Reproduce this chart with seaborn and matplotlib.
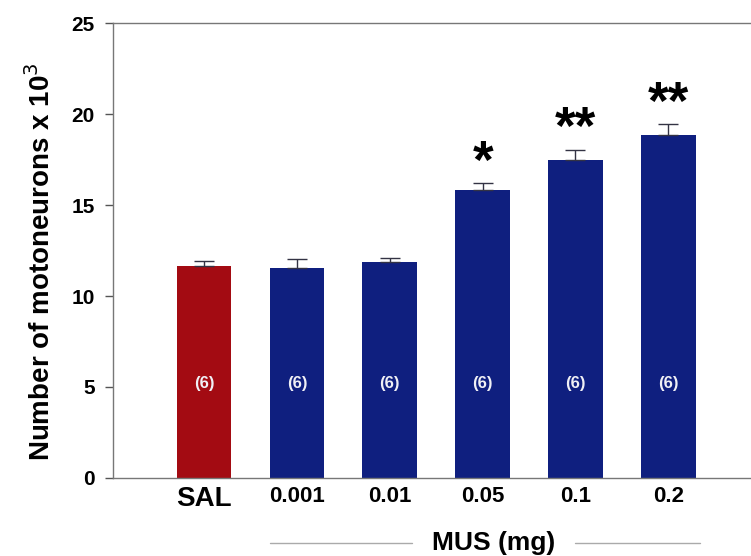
import matplotlib
matplotlib.use("Agg")
import matplotlib.pyplot as plt
import seaborn as sns
import pandas as pd

# values
groups = ["SAL", "0.001", "0.01", "0.05", "0.1", "0.2"]
means = [11.65, 11.55, 11.85, 15.85, 17.45, 18.85]
sems = [0.25, 0.5, 0.25, 0.35, 0.6, 0.6]
n_labels = ["(6)", "(6)", "(6)", "(6)", "(6)", "(6)"]
stars = ["", "", "", "*", "**", "**"]
colors = ["#A30B12", "#0F1F7F", "#0F1F7F", "#0F1F7F", "#0F1F7F", "#0F1F7F"]

df = pd.DataFrame({"group": groups, "mean": means, "sem": sems})

sns.set_style("white")
plt.rcParams["font.family"] = ["Liberation Sans", "DejaVu Sans"]
plt.rcParams["text.color"] = "black"
plt.rcParams["axes.labelcolor"] = "black"
plt.rcParams["ytick.labelcolor"] = "black"
plt.rcParams["xtick.labelcolor"] = "black"

fig = plt.figure(figsize=(7.51, 5.56), dpi=100)
ax = fig.add_axes([0.1505, 0.1403, 0.8495, 0.8183])

sns.barplot(data=df, x="group", y="mean", hue="group", palette=colors,
            legend=False, width=0.59, ax=ax, saturation=1, edgecolor="none")

ax.errorbar(range(len(groups)), df["mean"], yerr=[[0] * len(sems), df["sem"]],
            fmt="none", ecolor="#333344", elinewidth=1, capsize=7, capthick=1)

for i, (m, s) in enumerate(zip(means, sems)):
    ax.text(i, 5.2, n_labels[i], ha="center", va="center", color="#f0f0f5",
            fontsize=12, fontweight="bold")
    if stars[i]:
        ax.text(i, m + s - 0.3, stars[i], ha="center", va="bottom",
                fontsize=38, fontweight="bold", color="black")

ax.set_xlim(-0.98, 5.89)
ax.set_ylim(0, 25)
ax.set_yticks([0, 5, 10, 15, 20, 25])
ax.set_yticklabels(["0", "5", "10", "15", "20", "25"], fontsize=15,
                   fontweight="bold")
ax.set_xticks(range(len(groups)))
ax.set_xticklabels(groups, fontweight="bold")
for lab in ax.get_xticklabels():
    lab.set_fontsize(20 if lab.get_text() == "SAL" else 16)
ax.tick_params(axis="y", direction="out", length=6, width=1, color="#555555",
               left=True, pad=7)
ax.tick_params(axis="x", length=0, pad=6)

ax.set_xlabel("")
ax.set_ylabel("Number of motoneurons x 10$^3$", fontsize=20,
              fontweight="bold")
ax.yaxis.set_label_coords(-0.09, 0.475)

for side in ["top", "bottom", "left"]:
    ax.spines[side].set_visible(True)
    ax.spines[side].set_color("#777777")
    ax.spines[side].set_linewidth(1)
ax.spines["right"].set_visible(False)

# MUS (mg) label with side rules
ax.text(0.596, -0.142, "MUS (mg)", transform=ax.transAxes, ha="center",
        va="center", fontsize=19, fontweight="bold")
ax.plot([0.246, 0.469], [-0.143, -0.143], transform=ax.transAxes,
        color="#aaaaaa", lw=1, clip_on=False)
ax.plot([0.724, 0.92], [-0.143, -0.143], transform=ax.transAxes,
        color="#aaaaaa", lw=1, clip_on=False)

fig.savefig("out.png", dpi=100)
